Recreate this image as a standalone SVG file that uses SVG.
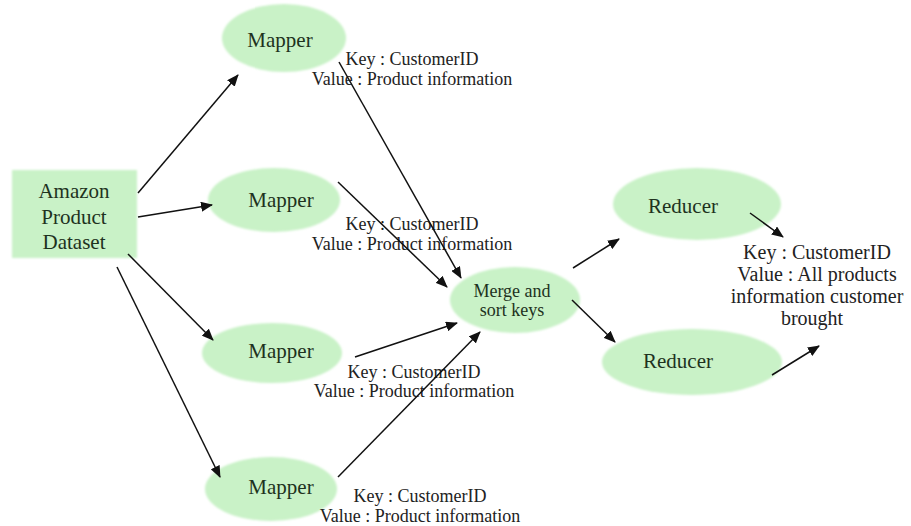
<svg xmlns="http://www.w3.org/2000/svg" width="911" height="526" viewBox="0 0 911 526">
  <style>
    .node { fill: #c9f2c7; filter: url(#soft); }
    .ntext { font-family: "Liberation Serif", "Times New Roman", serif; fill: #1e321e; text-anchor: middle; }
    .lbl { font-family: "Liberation Serif", "Times New Roman", serif; fill: #222; text-anchor: middle; font-size: 18px; }
    .big { font-size: 20px; }
    .edge { stroke: #111; stroke-width: 1.5; fill: none; marker-end: url(#arrow); }
  </style>
  <defs>
    <filter id="soft" x="-10%" y="-10%" width="120%" height="120%">
      <feGaussianBlur stdDeviation="1.2"/>
    </filter>
    <marker id="arrow" viewBox="0 0 12 10" refX="11" refY="5" markerWidth="12" markerHeight="10" markerUnits="userSpaceOnUse" orient="auto">
      <path d="M0,0 L12,5 L0,10 Z" fill="#111"/>
    </marker>
  </defs>
  <rect width="911" height="526" fill="#fff"/>

  <!-- source dataset -->
  <g id="dataset">
    <rect class="node" x="12" y="170" width="125" height="88"/>
    <text class="ntext" font-size="21" x="74" y="198">Amazon</text>
    <text class="ntext" font-size="21" x="74" y="224">Product</text>
    <text class="ntext" font-size="21" x="74" y="249">Dataset</text>
  </g>

  <!-- mappers -->
  <g id="mapper1">
    <ellipse class="node" cx="284" cy="38" rx="62" ry="34"/>
    <text class="ntext" font-size="21" x="280" y="47">Mapper</text>
  </g>
  <g id="mapper2">
    <ellipse class="node" cx="274" cy="200" rx="66" ry="32"/>
    <text class="ntext" font-size="21" x="281" y="207">Mapper</text>
  </g>
  <g id="mapper3">
    <ellipse class="node" cx="272" cy="353" rx="70" ry="30"/>
    <text class="ntext" font-size="21" x="281" y="358">Mapper</text>
  </g>
  <g id="mapper4">
    <ellipse class="node" cx="271" cy="489" rx="66" ry="32"/>
    <text class="ntext" font-size="21" x="281" y="494">Mapper</text>
  </g>

  <!-- shuffle stage -->
  <g id="merge">
    <ellipse class="node" cx="515" cy="300" rx="65" ry="33"/>
    <text class="ntext" font-size="18" x="512" y="297">Merge and</text>
    <text class="ntext" font-size="18" x="512" y="316">sort keys</text>
  </g>

  <!-- reducers -->
  <g id="reducer1">
    <ellipse class="node" cx="697" cy="204" rx="84" ry="36"/>
    <text class="ntext" font-size="21" x="683" y="213">Reducer</text>
  </g>
  <g id="reducer2">
    <ellipse class="node" cx="692" cy="362" rx="90" ry="33"/>
    <text class="ntext" font-size="21" x="678" y="368">Reducer</text>
  </g>

  <!-- intermediate key/value annotations -->
  <g id="kv1">
    <text class="lbl" x="412" y="65">Key : CustomerID</text>
    <text class="lbl" x="412" y="85">Value : Product information</text>
  </g>
  <g id="kv2">
    <text class="lbl" x="412" y="230">Key : CustomerID</text>
    <text class="lbl" x="412" y="250">Value : Product information</text>
  </g>
  <g id="kv3">
    <text class="lbl" x="414" y="378">Key : CustomerID</text>
    <text class="lbl" x="414" y="397">Value : Product information</text>
  </g>
  <g id="kv4">
    <text class="lbl" x="420" y="502">Key : CustomerID</text>
    <text class="lbl" x="420" y="522">Value : Product information</text>
  </g>

  <!-- final output annotation -->
  <g id="output">
    <text class="lbl big" x="817" y="259">Key : CustomerID</text>
    <text class="lbl big" x="817" y="281">Value : All products</text>
    <text class="lbl big" x="817" y="303">information customer</text>
    <text class="lbl big" x="812" y="325">brought</text>
  </g>

  <!-- connectors -->
  <g id="edges">
    <line class="edge" x1="138" y1="193" x2="238" y2="75"/>
    <line class="edge" x1="138" y1="217" x2="212" y2="205"/>
    <line class="edge" x1="128" y1="254" x2="213" y2="340"/>
    <line class="edge" x1="117" y1="267" x2="220" y2="477"/>
    <line class="edge" x1="339" y1="62" x2="461" y2="278"/>
    <line class="edge" x1="338" y1="182" x2="447" y2="287"/>
    <line class="edge" x1="355" y1="357" x2="457" y2="323"/>
    <line class="edge" x1="338" y1="477" x2="480" y2="332"/>
    <line class="edge" x1="573" y1="268" x2="619" y2="239"/>
    <line class="edge" x1="572" y1="300" x2="615" y2="342"/>
    <line class="edge" x1="750" y1="213" x2="783" y2="237"/>
    <line class="edge" x1="772" y1="375" x2="819" y2="346"/>
  </g>
</svg>
